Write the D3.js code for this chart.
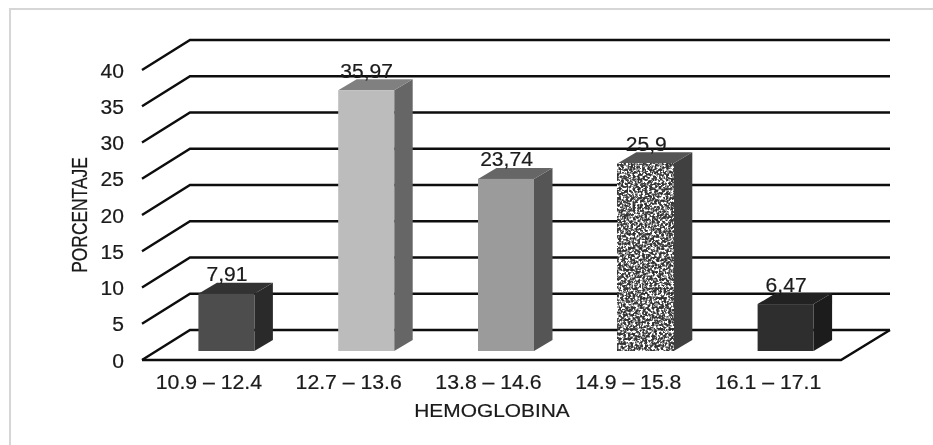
<!DOCTYPE html>
<html>
<head>
<meta charset="utf-8">
<script src="https://cdn.jsdelivr.net/npm/d3@7"></script>
<style>
html,body{margin:0;padding:0;background:#fff;overflow:hidden}
svg{display:block}
text{font-family:"Liberation Sans",Arial,sans-serif;fill:#1a1a1a;stroke:#1a1a1a;stroke-width:0.2px}
</style>
</head>
<body>
<svg id="c" width="933" height="445"></svg>
<script>
const categories = ["10.9 – 12.4","12.7 – 13.6","13.8 – 14.6","14.9 – 15.8","16.1 – 17.1"];
const values = [7.91,35.97,23.74,25.9,6.47];
const yTicks = [0,5,10,15,20,25,30,35,40];
const frontColors = ["#4d4d4d","#bcbcbc","#9b9b9b","speckle","#2e2e2e"];
const sideColors = ["#2b2b2b","#666666","#555555","#404040","#1f1f1f"];
const topColors = ["#333333","#808080","#666666","#555555","#232323"];
const yTitle = "PORCENTAJE";
const xTitle = "HEMOGLOBINA";

const svg = d3.select("#c");
const defs = svg.append("defs");
const blur = defs.append("filter").attr("id","soft")
  .attr("filterUnits","userSpaceOnUse").attr("x",0).attr("y",0).attr("width",933).attr("height",445);
blur.append("feGaussianBlur").attr("stdDeviation",0.55);

const sp = defs.append("filter").attr("id","speckle").attr("x",0).attr("y",0).attr("width",1).attr("height",1)
  .attr("color-interpolation-filters","sRGB");
sp.append("feTurbulence").attr("type","fractalNoise").attr("baseFrequency",0.42).attr("numOctaves",2).attr("seed",4);
sp.append("feColorMatrix").attr("type","matrix").attr("values","1 0 0 0 0 1 0 0 0 0 1 0 0 0 0 0 0 0 0 1");
const ct = sp.append("feComponentTransfer");
["R","G","B"].forEach(c=>ct.append("feFunc"+c).attr("type","discrete").attr("tableValues","0.12 0.12 0.2 0.2 0.3 0.62 1 1 1 1"));

const root = svg.append("g").attr("filter","url(#soft)");
root.append("rect").attr("x",10).attr("y",9).attr("width",1000).attr("height",600)
  .attr("fill","#fff").attr("stroke","#d6d6d6").attr("stroke-width",2);

const y = d3.scaleLinear().domain([0,40]).range([360,70]);
const x = d3.scaleBand().domain(categories).range([142,841]);
const wallDx = 48, wallDy = -30, wallRight = 890;
const barW = 56, barDx = 18.5, barDy = -11, barOffX = 14.5, barOffY = -9;
const line = d3.line();

// gridlines
root.append("g").selectAll("path").data(yTicks).join("path")
  .attr("d",v=>line([[x.range()[0],y(v)],[x.range()[0]+wallDx,y(v)+wallDy],[wallRight,y(v)+wallDy]]))
  .attr("fill","none").attr("stroke","#0a0a0a").attr("stroke-width",2.4);
// floor
root.append("path")
  .attr("d",line([[x.range()[0],y(0)],[x.range()[1],y(0)],[wallRight,y(0)+wallDy]]))
  .attr("fill","none").attr("stroke","#0a0a0a").attr("stroke-width",2.4);

// bars
const bars = root.append("g").selectAll("g").data(values).join("g");
const bx = (i)=>x(categories[i])+x.bandwidth()/2+barOffX-barW/2;
const by = (v)=>y(v)+barOffY;
const base = y(0)+barOffY;
bars.append("path").attr("fill",(d,i)=>sideColors[i])
  .attr("d",(d,i)=>{const r=bx(i)+barW;return line([[r,by(d)],[r+barDx,by(d)+barDy],[r+barDx,base+barDy],[r,base]])+"Z";});
bars.append("path").attr("fill",(d,i)=>topColors[i])
  .attr("d",(d,i)=>{const l=bx(i),r=l+barW,t=by(d);return line([[l,t],[l+barDx,t+barDy],[r+barDx,t+barDy],[r,t]])+"Z";});
bars.append("rect").attr("x",(d,i)=>bx(i)).attr("y",d=>by(d)).attr("width",barW).attr("height",d=>base-by(d))
  .attr("fill",(d,i)=>frontColors[i]==="speckle"?"#888":frontColors[i])
  .attr("filter",(d,i)=>frontColors[i]==="speckle"?"url(#speckle)":null);

// data labels
root.append("g").selectAll("text").data(values).join("text")
  .attr("text-anchor","middle").attr("font-size",19.5)
  .attr("transform",(d,i)=>`translate(${bx(i)+barW/2+0.5},${by(d)-12.5}) scale(1.08,1)`)
  .text(d=>String(d).replace(".",","));

// y axis tick labels
const yAxis = root.append("g").attr("transform","translate(124,0)")
  .call(d3.axisLeft(y).tickValues(yTicks).tickSize(0).tickPadding(0));
yAxis.select(".domain").remove();
yAxis.attr("font-family",null).attr("font-size",null);
yAxis.selectAll("text").attr("font-size",19.5).attr("dy",null)
  .attr("x",0).attr("y",7).attr("transform","scale(1.08,1)");

// x axis tick labels
const xAxis = root.append("g").attr("transform","translate(-3,388.8)")
  .call(d3.axisBottom(x).tickSize(0).tickPadding(0));
xAxis.select(".domain").remove();
xAxis.attr("font-family",null).attr("font-size",null);
xAxis.selectAll("text").attr("font-size",19.5).attr("dy",null).attr("y",0).attr("transform","scale(1.09,1)");

// titles
root.append("text").attr("text-anchor","middle").attr("font-size",19)
  .attr("transform","translate(492,416.8) scale(1.1,1)").text(xTitle);
root.append("text").attr("text-anchor","middle").attr("font-size",17.4)
  .attr("transform","translate(87,215) scale(1.3,1) rotate(-90)").text(yTitle);
</script>
</body>
</html>
